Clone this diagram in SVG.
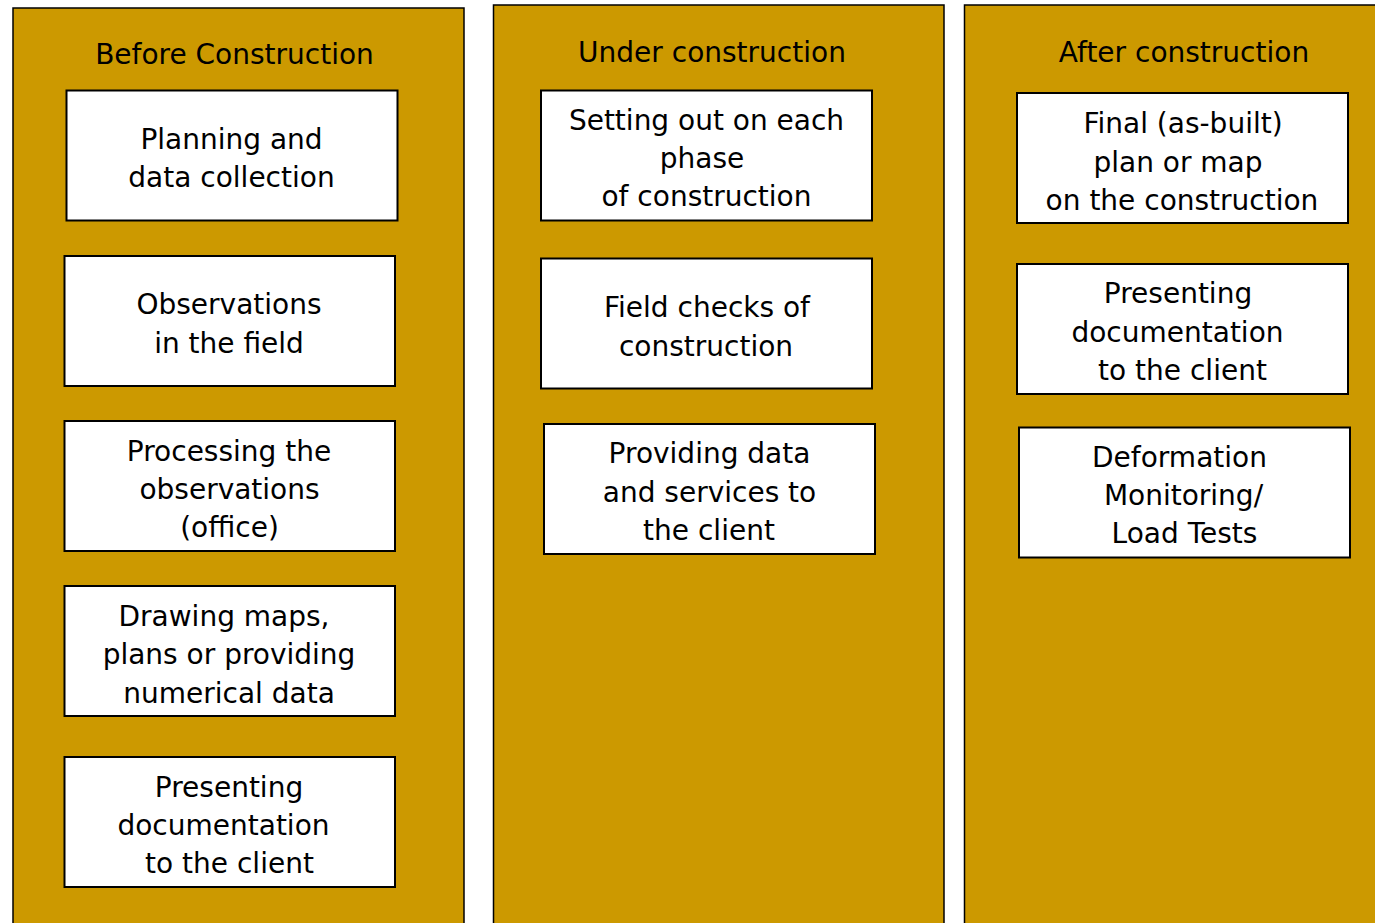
<svg xmlns="http://www.w3.org/2000/svg" width="1375" height="923" viewBox="0 0 1375 923">
  <style>
    .phase { fill: #CC9900; stroke: #000; stroke-width: 1.5; }
    .box { fill: #fff; stroke: #000; stroke-width: 2; }
    text { font-family: "DejaVu Sans", Verdana, sans-serif; font-size: 28px; fill: #000; text-anchor: middle; }
  </style>
  <rect width="1375" height="923" fill="#fff"/>

  <!-- Phase columns -->
  <g id="col-before">
    <rect class="phase" x="13" y="8" width="451" height="925"/>
    <text x="234.5" y="64">Before Construction</text>
  </g>
  <g id="col-under">
    <rect class="phase" x="493.5" y="5" width="450.5" height="925"/>
    <text x="712" y="62">Under construction</text>
  </g>
  <g id="col-after">
    <rect class="phase" x="964.5" y="5" width="420" height="925"/>
    <text x="1184" y="62">After construction</text>
  </g>

  <!-- Before construction tasks -->
  <g id="planning">
    <rect class="box" x="66.5" y="90.5" width="331" height="130"/>
    <text x="231.5" y="149">Planning and</text>
    <text x="231.5" y="187">data collection</text>
  </g>
  <g id="observations">
    <rect class="box" x="64.5" y="256" width="330.5" height="130"/>
    <text x="229" y="314">Observations</text>
    <text x="229" y="353">in the field</text>
  </g>
  <g id="processing">
    <rect class="box" x="64.5" y="421" width="330.5" height="130"/>
    <text x="229" y="461">Processing the</text>
    <text x="229.5" y="499">observations</text>
    <text x="229.5" y="537">(office)</text>
  </g>
  <g id="drawing">
    <rect class="box" x="64.5" y="586" width="330.5" height="130"/>
    <text x="224" y="626">Drawing maps,</text>
    <text x="229" y="664">plans or providing</text>
    <text x="229" y="703">numerical data</text>
  </g>
  <g id="presenting-before">
    <rect class="box" x="64.5" y="757" width="330.5" height="130"/>
    <text x="229" y="797">Presenting</text>
    <text x="223.5" y="835">documentation</text>
    <text x="229.5" y="873">to the client</text>
  </g>

  <!-- Under construction tasks -->
  <g id="setting-out">
    <rect class="box" x="541" y="90.5" width="331" height="130"/>
    <text x="706.5" y="130">Setting out on each</text>
    <text x="702" y="168">phase</text>
    <text x="706.5" y="206">of construction</text>
  </g>
  <g id="field-checks">
    <rect class="box" x="541" y="258.5" width="331" height="130"/>
    <text x="707" y="317">Field checks of</text>
    <text x="706" y="356">construction</text>
  </g>
  <g id="providing">
    <rect class="box" x="544" y="424" width="331" height="130"/>
    <text x="709.5" y="463">Providing data</text>
    <text x="709.5" y="502">and services to</text>
    <text x="709" y="540">the client</text>
  </g>

  <!-- After construction tasks -->
  <g id="as-built">
    <rect class="box" x="1017" y="93" width="331" height="130"/>
    <text x="1183" y="133">Final (as-built)</text>
    <text x="1178" y="172">plan or map</text>
    <text x="1182" y="210">on the construction</text>
  </g>
  <g id="presenting-after">
    <rect class="box" x="1017" y="264" width="331" height="130"/>
    <text x="1178" y="303">Presenting</text>
    <text x="1177.5" y="342">documentation</text>
    <text x="1182.5" y="380">to the client</text>
  </g>
  <g id="deformation">
    <rect class="box" x="1019" y="427.5" width="331" height="130"/>
    <text x="1179.5" y="467">Deformation</text>
    <text x="1183.5" y="505">Monitoring/</text>
    <text x="1184.5" y="543">Load Tests</text>
  </g>

  <g id="connectors"/>
</svg>
